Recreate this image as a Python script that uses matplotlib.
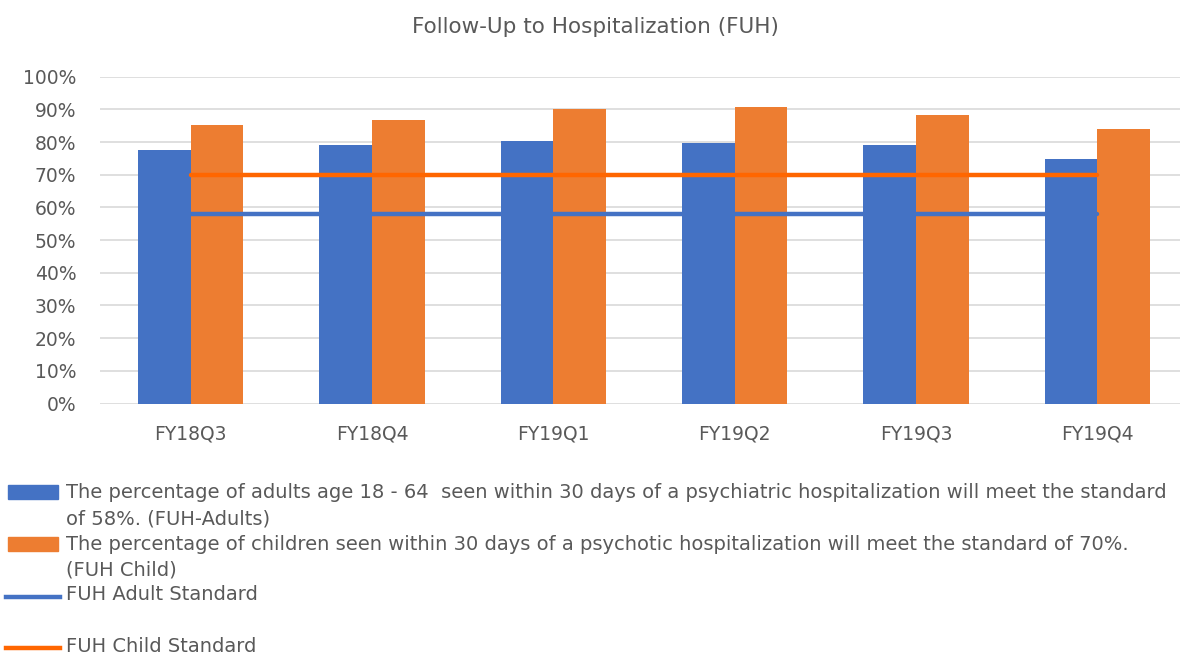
import matplotlib.pyplot as plt
import numpy as np
from matplotlib.patches import Rectangle
from matplotlib.lines import Line2D

plt.rcParams['font.family'] = ['DejaVu Sans']

# data
quarters = ['FY18Q3', 'FY18Q4', 'FY19Q1', 'FY19Q2', 'FY19Q3', 'FY19Q4']
adults = [0.777, 0.790, 0.802, 0.796, 0.790, 0.747]
children = [0.851, 0.869, 0.901, 0.907, 0.882, 0.839]
adult_std = [0.58] * 6
child_std = [0.70] * 6

blue = '#4472C4'
orange = '#ED7D31'
orange_line = '#FF6600'
grey = '#595959'

W, H = 1180, 656
fig = plt.figure(figsize=(W / 100, H / 100), dpi=100)
# axes extend past the right edge, like the cropped original
ax = fig.add_axes([100 / W, 1 - 403.5 / H, 1088 / W, 326.8 / H])

x = np.arange(len(quarters))
bw = 0.29
ax.bar(x - bw / 2, adults, bw, color=blue, zorder=2)
ax.bar(x + bw / 2, children, bw, color=orange, zorder=2)
ax.plot(x, child_std, color=orange_line, lw=3.2, zorder=3, solid_capstyle='round')
ax.plot(x, adult_std, color=blue, lw=3.2, zorder=3, solid_capstyle='round')

ax.set_xlim(-0.5, 5.5)
ax.set_ylim(0, 1)
ticks = np.arange(0, 1.01, 0.1)
ax.set_yticks(ticks)
ax.set_yticklabels([f'{int(round(v * 100))}%' for v in ticks])
ax.set_xticks(x)
ax.set_xticklabels(quarters)
ax.tick_params(length=0, labelsize=13.5, colors=grey)
ax.tick_params(axis='x', pad=15)
ax.tick_params(axis='y', pad=17)
ax.grid(axis='y', color='#D9D9D9', lw=1.2, zorder=0)
for s in ax.spines.values():
    s.set_visible(False)

fig.text(595 / W, 1 - 27 / H, 'Follow-Up to Hospitalization (FUH)', ha='center', va='center',
         fontsize=15.5, color=grey)

# legend
fs = 14
def fy(y):
    return 1 - y / H

fig.add_artist(Rectangle((8 / W, fy(499)), 50 / W, 14 / H, transform=fig.transFigure, color=blue))
fig.text(66 / W, fy(492), 'The percentage of adults age 18 - 64  seen within 30 days of a psychiatric hospitalization will meet the standard',
         va='center', fontsize=fs, color=grey)
fig.text(66 / W, fy(519), 'of 58%. (FUH-Adults)', va='center', fontsize=fs, color=grey)

fig.add_artist(Rectangle((8 / W, fy(551)), 50 / W, 14 / H, transform=fig.transFigure, color=orange))
fig.text(66 / W, fy(544), 'The percentage of children seen within 30 days of a psychotic hospitalization will meet the standard of 70%.',
         va='center', fontsize=fs, color=grey)
fig.text(66 / W, fy(570), '(FUH Child)', va='center', fontsize=fs, color=grey)

fig.add_artist(Line2D([6 / W, 60 / W], [fy(597), fy(597)], transform=fig.transFigure, color=blue, lw=3.2))
fig.text(66 / W, fy(595), 'FUH Adult Standard', va='center', fontsize=fs, color=grey)

fig.add_artist(Line2D([6 / W, 60 / W], [fy(648), fy(648)], transform=fig.transFigure, color=orange_line, lw=3.2))
fig.text(66 / W, fy(647), 'FUH Child Standard', va='center', fontsize=fs, color=grey)

fig.savefig('out.png', dpi=100)
